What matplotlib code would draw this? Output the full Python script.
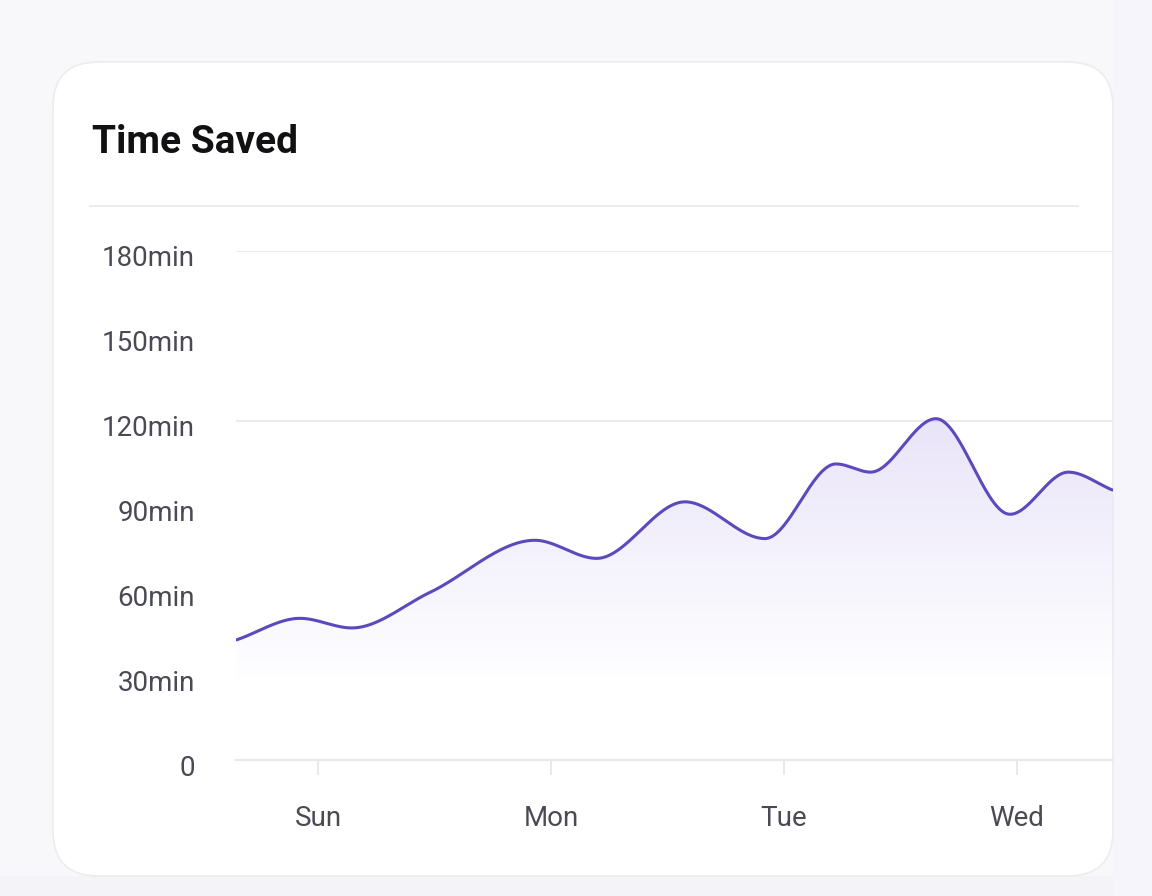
import numpy as np
import matplotlib.pyplot as plt
from matplotlib.patches import FancyBboxPatch, Rectangle
from matplotlib.transforms import IdentityTransform, ScaledTranslation

plt.rcParams['font.family'] = ['Roboto', 'DejaVu Sans']

# data (x in days, Sun = 0)
t_days = [-0.349, -0.077, 0.145, 0.481, 0.931, 1.196, 1.575, 1.918, 2.223, 2.372, 2.652, 2.970, 3.220, 3.409]
minutes = [42.5, 50.1, 46.7, 59.3, 77.7, 71.3, 91.3, 78.3, 104.7, 101.8, 120.7, 86.9, 101.8, 95.5]
day_labels = ['Sun', 'Mon', 'Tue', 'Wed']
y_ticks = [0, 30, 60, 90, 120, 150, 180]
y_labels = ['0', '30min', '60min', '90min', '120min', '150min', '180min']
grid_at = [120, 180]


def monotone_curve(xp, yp, n=60):
    xp = np.asarray(xp, float)
    yp = np.asarray(yp, float)
    h = np.diff(xp)
    s = np.diff(yp) / h
    m = np.zeros_like(yp)
    m[0], m[-1] = s[0], s[-1]
    for i in range(1, len(xp) - 1):
        if s[i - 1] * s[i] <= 0:
            m[i] = 0
        else:
            p = (s[i - 1] * h[i] + s[i] * h[i - 1]) / (h[i - 1] + h[i])
            m[i] = (np.sign(s[i - 1]) + np.sign(s[i])) * min(abs(s[i - 1]), abs(s[i]), 0.5 * abs(p))
    xs, ys = [], []
    for i in range(len(xp) - 1):
        u = np.linspace(0, 1, n, endpoint=False)
        h00 = 2 * u**3 - 3 * u**2 + 1
        h10 = u**3 - 2 * u**2 + u
        h01 = -2 * u**3 + 3 * u**2
        h11 = u**3 - u**2
        xs.append(xp[i] + u * h[i])
        ys.append(h00 * yp[i] + h10 * h[i] * m[i] + h01 * yp[i + 1] + h11 * h[i] * m[i + 1])
    xs.append([xp[-1]])
    ys.append([yp[-1]])
    return np.concatenate(xs), np.concatenate(ys)


W, H = 1152, 896
fig = plt.figure(figsize=(W / 100, H / 100), dpi=100)
fig.patch.set_facecolor('#f8f8fa')

px = IdentityTransform()
bg_right = Rectangle((1113, 0), 39, H, transform=px, facecolor='#f5f5fb', edgecolor='none', zorder=-10)
bg_bottom = Rectangle((0, 0), 1113, H - 876, transform=px, facecolor='#f4f4f8', edgecolor='none', zorder=-10)
card = FancyBboxPatch((53 + 45, H - 876 + 45), 1060 - 90, 814 - 90,
                      boxstyle='round,pad=45', transform=px,
                      facecolor='white', edgecolor='#ececf0', linewidth=1.2, zorder=-9)
for p in (bg_right, bg_bottom, card):
    fig.patches.append(p)

fig.text(92 / W, 1 - 153 / H, 'Time Saved', fontsize=28, fontweight='bold',
         color='#111114', ha='left', va='baseline')
fig.add_artist(plt.Line2D([90 / W, 1078 / W], [1 - 206 / H, 1 - 206 / H],
                          transform=fig.transFigure, color='#ececf0', lw=1.5))

ax = fig.add_axes([236 / W, 1 - 760 / H, (1113 - 236) / W, (760 - 251) / H])
ax.set_facecolor('none')
ax.set_xlim(-0.352, 3.412)
ax.set_ylim(0, 180)

for g in grid_at:
    ax.axhline(g, color='#ebebef', lw=1.5, zorder=0)

xs, ys = monotone_curve(t_days, minutes)

# vertical gradient under the line
grad = np.zeros((256, 1, 4))
vals = np.linspace(0, 180, 256)
grad[:, 0, 0] = 0.42
grad[:, 0, 1] = 0.31
grad[:, 0, 2] = 0.85
grad[:, 0, 3] = np.clip((vals - 25) / (120 - 25), 0, 1) * 0.15
img = ax.imshow(grad, extent=[-0.352, 3.412, 0, 180], origin='lower', aspect='auto', zorder=1)
fill = ax.fill_between(xs, ys, 0, color='none')
clip = fill.get_paths()[0]
img.set_clip_path(clip, transform=ax.transData)

ax.plot(xs, ys, color='#5e48bd', lw=2.2, zorder=3, solid_capstyle='round')

for side in ['top', 'right', 'left']:
    ax.spines[side].set_visible(False)
ax.spines['bottom'].set_color('#e8e8ec')
ax.spines['bottom'].set_linewidth(1.5)

ax.set_xticks(range(len(day_labels)))
ax.set_xticklabels(day_labels, fontsize=20, color='#4a4a55')
ax.tick_params(axis='x', length=11, width=1.2, color='#e5e5ea', pad=21.5)
ax.set_yticks(y_ticks)
ax.set_yticklabels(y_labels, fontsize=20, color='#4a4a55')
ax.tick_params(axis='y', length=0, pad=29.5)

# labels sit a few pixels below their gridline in the reference
shift = ScaledTranslation(0, -0.05, fig.dpi_scale_trans)
for lbl in ax.get_yticklabels():
    lbl.set_transform(lbl.get_transform() + shift)

fig.savefig('out.png', dpi=100, facecolor=fig.get_facecolor())
